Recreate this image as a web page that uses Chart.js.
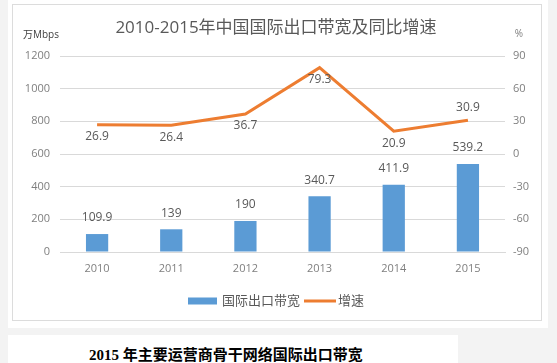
<!DOCTYPE html>
<html>
<head>
<meta charset="utf-8">
<script src="https://cdn.jsdelivr.net/npm/chart.js@4/dist/chart.umd.min.js"></script>
<style>
  html, body { margin: 0; padding: 0; }
  body { width: 557px; height: 363px; background: #f3f3f3; position: relative; overflow: hidden; }
  #outer { position: absolute; left: 8px; top: 0; width: 540px; height: 328px; background: #fff; }
  #frame { position: absolute; left: 12px; top: 4px; width: 530px; height: 317px; box-sizing: border-box; border: 1px solid #dcdcdc; background: #fff; }
  #c { position: absolute; left: 13px; top: 5px; }
  #lower { position: absolute; left: 8px; top: 335px; width: 450px; height: 40px; background: #fff; }
  #lower span { position: absolute; left: 81px; top: 11px; font: bold 15px "Liberation Serif", "Noto Sans CJK SC", serif; line-height: 18px; color: #000; white-space: nowrap; }
</style>
</head>
<body>
<div id="outer"></div>
<div id="frame"></div>
<canvas id="c" width="528" height="315"></canvas>
<div id="lower"><span>2015 年主要运营商骨干网络国际出口带宽</span></div>
<script>
const categories = ['2010', '2011', '2012', '2013', '2014', '2015'];
const bandwidth = [109.9, 139, 190, 340.7, 411.9, 539.2];
const growth = [26.9, 26.4, 36.7, 79.3, 20.9, 30.9];
const seriesNames = ['国际出口带宽', '增速'];
const titleText = '2010-2015年中国国际出口带宽及同比增速';
const leftUnit = '万Mbps';
const rightUnit = '%';
const growthLabelAbove = [false, false, false, false, false, true];

const BLUE = '#5B9BD5';
const ORANGE = '#ED7D31';
const NUMFONT = '"Open Sans", "Noto Sans CJK SC", sans-serif';

const decor = {
  id: 'decor',
  afterDatasetsDraw(chart) {
    const ctx = chart.ctx;
    ctx.save();
    ctx.fillStyle = '#595959';
    ctx.font = '12px ' + NUMFONT;
    ctx.textAlign = 'center';
    ctx.textBaseline = 'middle';
    chart.getDatasetMeta(0).data.forEach((el, i) => {
      ctx.fillText(String(bandwidth[i]), el.x, el.y - 16);
    });
    chart.getDatasetMeta(1).data.forEach((el, i) => {
      const dy = growthLabelAbove[i] ? -13 : 12;
      ctx.fillText(String(growth[i]), el.x, el.y + dy);
    });
    ctx.restore();
  },
  afterDraw(chart) {
    const ctx = chart.ctx;
    ctx.save();
    ctx.fillStyle = '#595959';
    ctx.font = '17px ' + NUMFONT;
    ctx.textAlign = 'center';
    ctx.textBaseline = 'middle';
    ctx.fillText(titleText, 263, 23);
    ctx.fillStyle = '#404040';
    ctx.font = '10px ' + NUMFONT;
    ctx.textAlign = 'left';
    ctx.fillText(leftUnit, 10, 30);
    ctx.fillStyle = '#7f7f7f';
    ctx.textAlign = 'center';
    ctx.fillText(rightUnit, 506, 29);
    const ly = 296;
    ctx.fillStyle = BLUE;
    ctx.fillRect(175, ly - 3.5, 29, 7);
    ctx.fillStyle = '#595959';
    ctx.font = '13px ' + NUMFONT;
    ctx.textAlign = 'left';
    ctx.fillText(seriesNames[0], 209, ly);
    ctx.strokeStyle = ORANGE;
    ctx.lineWidth = 3;
    ctx.beginPath();
    ctx.moveTo(291, ly);
    ctx.lineTo(323, ly);
    ctx.stroke();
    ctx.fillText(seriesNames[1], 325, ly);
    ctx.restore();
  }
};

new Chart(document.getElementById('c'), {
  data: {
    labels: categories,
    datasets: [
      {
        type: 'bar',
        label: seriesNames[0],
        data: bandwidth,
        backgroundColor: BLUE,
        yAxisID: 'y',
        order: 1,
        categoryPercentage: 1,
        barPercentage: 0.3
      },
      {
        type: 'line',
        label: seriesNames[1],
        data: growth,
        borderColor: ORANGE,
        backgroundColor: ORANGE,
        borderWidth: 3,
        pointRadius: 0,
        tension: 0,
        yAxisID: 'y1',
        order: 0
      }
    ]
  },
  options: {
    responsive: false,
    animation: false,
    devicePixelRatio: 1,
    layout: { padding: { top: 51, bottom: 38, left: 0, right: 0 } },
    plugins: { legend: { display: false }, title: { display: false }, tooltip: { enabled: false } },
    scales: {
      x: {
        offset: true,
        grid: { display: false, drawTicks: false },
        border: { display: true, color: '#d9d9d9' },
        ticks: { color: '#7f7f7f', font: { size: 11, family: NUMFONT }, padding: 10, maxRotation: 0 },
        afterFit(s) { s.height = 30; }
      },
      y: {
        position: 'left',
        min: 0, max: 1200,
        ticks: { stepSize: 200, color: '#7f7f7f', font: { size: 11, family: NUMFONT }, padding: 10,
                 callback: (v) => String(v) },
        grid: { color: '#d9d9d9', drawTicks: false },
        border: { display: false },
        afterFit(s) { s.width = 47; }
      },
      y1: {
        position: 'right',
        min: -90, max: 90,
        ticks: { stepSize: 30, color: '#7f7f7f', font: { size: 11, family: NUMFONT }, padding: 8,
                 callback: (v) => String(v) },
        grid: { display: false, drawTicks: false },
        border: { display: false },
        afterFit(s) { s.width = 36; }
      }
    }
  },
  plugins: [decor]
});
</script>
</body>
</html>
